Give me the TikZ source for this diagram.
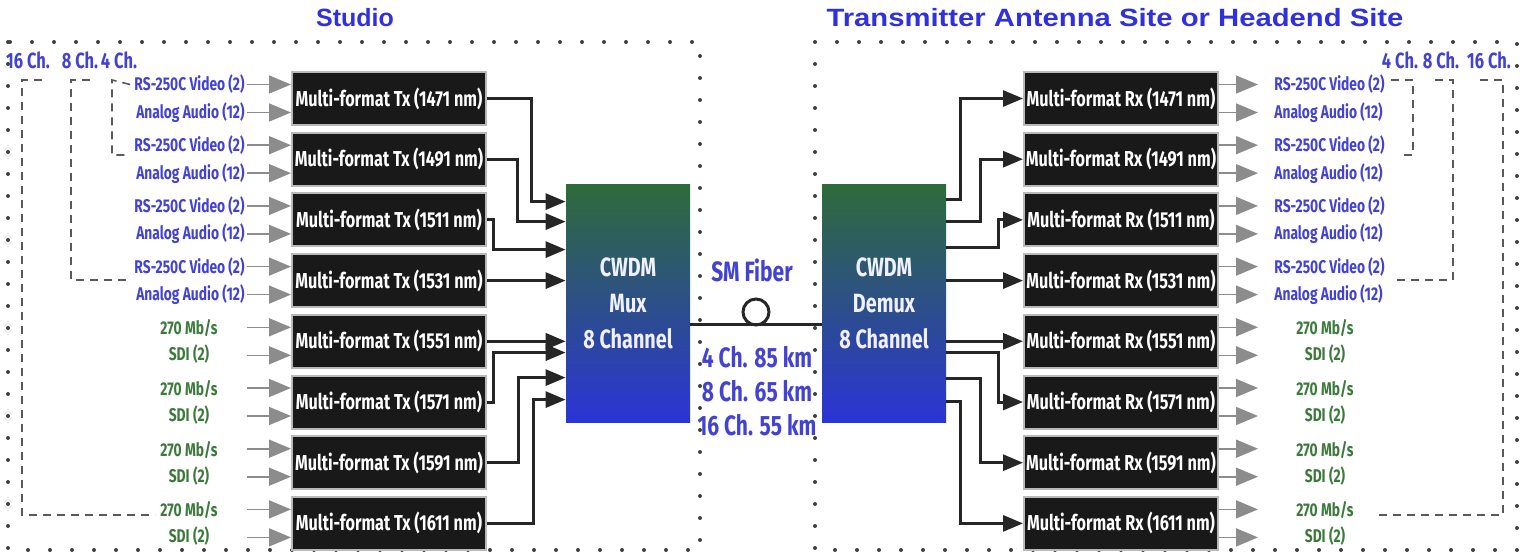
\documentclass[tikz,border=0pt]{standalone}
\usepackage{fontspec}
\setmainfont{Liberation Sans}
\newfontfamily\condfont[FakeStretch=0.75]{Fira Sans}
\newfontfamily\widefont[FakeStretch=1.17]{Liberation Sans}
\usetikzlibrary{arrows.meta, positioning, calc}

\definecolor{titleblue}{HTML}{3030E0}
\definecolor{lblblue}{HTML}{4242D4}
\definecolor{lblgreen}{HTML}{3C7A3C}
\definecolor{muxgreen}{HTML}{2E6B3A}
\definecolor{muxblue}{HTML}{2B34D6}
\definecolor{arrowgray}{HTML}{8C8C8C}

\begin{document}
\begin{tikzpicture}[
    x=0.5pt, y=-0.5pt,
    % --- Node styles ---
    title/.style = {font=\fontsize{12.5}{14}\selectfont\bfseries, text=titleblue},
    unit/.style = {rectangle, draw=gray!55, line width=1pt, fill=black!90,
        text=white, minimum width=97pt, minimum height=26.5pt, inner sep=0pt,
        font=\condfont\fontsize{10.8}{12}\selectfont\bfseries},
    wdm/.style = {rectangle, draw=none, top color=muxgreen, bottom color=muxblue,
        text=blue!6, minimum width=62pt, minimum height=118.5pt, align=center,
        font=\condfont\fontsize{13.2}{18}\selectfont\bfseries},
    sig/.style = {font=\condfont\fontsize{9.2}{10}\selectfont\bfseries,
        text=lblblue, inner sep=1pt},
    sdi/.style = {font=\condfont\fontsize{9.2}{10}\selectfont\bfseries,
        text=lblgreen, inner sep=1pt},
    chlbl/.style = {font=\condfont\fontsize{11}{12}\selectfont\bfseries,
        text=lblblue, inner sep=0pt},
    fiberlbl/.style = {font=\condfont\fontsize{14}{17}\selectfont\bfseries,
        text=lblblue, align=center, inner sep=0pt},
    % --- Arrow styles ---
    inarrow/.style = {draw=arrowgray, line width=0.8pt,
        -{Triangle[length=11pt, width=9pt]}, arrowgray},
    link/.style = {draw=black!85, line width=1.5pt,
        -{Triangle[length=10pt, width=8pt]}},
    grouping/.style = {draw=black!65, dash pattern=on 4pt off 3pt, line width=0.8pt},
    siteframe/.style = {draw=black!75, line width=2pt, line cap=round,
        dash pattern=on 0pt off 11pt}
]
\useasboundingbox (0,0) rectangle (1523,556);

% ==================== SITES ====================
\draw[siteframe] (8,42) rectangle (700,550);
\draw[siteframe] (815,42) rectangle (1517,550);
\node[title] (studio) at (355,18) {Studio};
\node[title, font=\widefont\fontsize{12.5}{14}\selectfont\bfseries] (headend) at (1115,18)
    {Transmitter Antenna Site or Headend Site};

% ==================== TX UNITS ====================
\node[unit] (tx1) at (389,98.5) {Multi-format Tx (1471 nm)};
\node[unit, below=2.85pt of tx1] (tx2) {Multi-format Tx (1491 nm)};
\node[unit, below=2.85pt of tx2] (tx3) {Multi-format Tx (1511 nm)};
\node[unit, below=2.85pt of tx3] (tx4) {Multi-format Tx (1531 nm)};
\node[unit, below=2.85pt of tx4] (tx5) {Multi-format Tx (1551 nm)};
\node[unit, below=2.85pt of tx5] (tx6) {Multi-format Tx (1571 nm)};
\node[unit, below=2.85pt of tx6] (tx7) {Multi-format Tx (1591 nm)};
\node[unit, below=2.85pt of tx7] (tx8) {Multi-format Tx (1611 nm)};

% ==================== RX UNITS ====================
\node[unit] (rx1) at (1121,98.5) {Multi-format Rx (1471 nm)};
\node[unit, below=2.85pt of rx1] (rx2) {Multi-format Rx (1491 nm)};
\node[unit, below=2.85pt of rx2] (rx3) {Multi-format Rx (1511 nm)};
\node[unit, below=2.85pt of rx3] (rx4) {Multi-format Rx (1531 nm)};
\node[unit, below=2.85pt of rx4] (rx5) {Multi-format Rx (1551 nm)};
\node[unit, below=2.85pt of rx5] (rx6) {Multi-format Rx (1571 nm)};
\node[unit, below=2.85pt of rx6] (rx7) {Multi-format Rx (1591 nm)};
\node[unit, below=2.85pt of rx7] (rx8) {Multi-format Rx (1611 nm)};

% ==================== MUX / DEMUX ====================
\node[wdm] (mux) at (628,303.5) {CWDM\\Mux\\8 Channel};
\node[wdm] (demux) at (884,303.5) {CWDM\\Demux\\8 Channel};

% ==================== INPUTS / OUTPUTS ====================
\foreach \i in {1,...,4} {
    \node[sig, anchor=east] (vin\i) at ($(tx\i.west)+(-44,-14)$) {RS-250C Video (2)};
    \node[sig, anchor=east] (ain\i) at ($(tx\i.west)+(-44,14)$) {Analog Audio (12)};
    \draw[inarrow] (vin\i.east) -- (vin\i.east -| tx\i.west);
    \draw[inarrow] (ain\i.east) -- (ain\i.east -| tx\i.west);
    \coordinate (vout\i) at ($(rx\i.east)+(39,-14)$);
    \coordinate (aout\i) at ($(rx\i.east)+(39,14)$);
    \node[sig, anchor=west] (vlbl\i) at ($(vout\i)+(14,0)$) {RS-250C Video (2)};
    \node[sig, anchor=west] (albl\i) at ($(aout\i)+(14,0)$) {Analog Audio (12)};
    \draw[inarrow] (rx\i.east |- vout\i) -- (vout\i);
    \draw[inarrow] (rx\i.east |- aout\i) -- (aout\i);
}
\foreach \i in {5,...,8} {
    \coordinate (sin\i) at ($(tx\i.west)+(-44,-14)$);
    \coordinate (din\i) at ($(tx\i.west)+(-44,14)$);
    \node[sdi] (rate\i) at ($(tx\i.west)+(-102,-13)$) {270 Mb/s};
    \node[sdi] (sdi\i) at ($(tx\i.west)+(-102,13)$) {SDI (2)};
    \draw[inarrow] (sin\i) -- (sin\i -| tx\i.west);
    \draw[inarrow] (din\i) -- (din\i -| tx\i.west);
    \coordinate (sout\i) at ($(rx\i.east)+(39,-14)$);
    \coordinate (dout\i) at ($(rx\i.east)+(39,14)$);
    \node[sdi] (orate\i) at ($(rx\i.east)+(106,-13)$) {270 Mb/s};
    \node[sdi] (osdi\i) at ($(rx\i.east)+(106,13)$) {SDI (2)};
    \draw[inarrow] (rx\i.east |- sout\i) -- (sout\i);
    \draw[inarrow] (rx\i.east |- dout\i) -- (dout\i);
}

% ==================== CHANNEL GROUPS ====================
\node[chlbl] (ch16l) at (28,60) {16 Ch.};
\node[chlbl] (ch8l) at (80,60) {8 Ch.};
\node[chlbl] (ch4l) at (119,60) {4 Ch.};
\draw[grouping] (42,80) -- (22,80) -- (22,515) -- (155,515);
\draw[grouping] (90,80) -- (71,80) -- (71,280) -- (130,280);
\draw[grouping] ($(vin1.west)+(-2,0)$) -- (112,80) -- (112,155) -- (128,155);

\node[chlbl] (ch4r) at (1400,60) {4 Ch.};
\node[chlbl] (ch8r) at (1441,60) {8 Ch.};
\node[chlbl] (ch16r) at (1489,60) {16 Ch.};
\draw[grouping] (1391,80) -- (1413,80) -- (1413,155) -- (1400,155);
\draw[grouping] (1435,80) -- (1453,80) -- (1453,280) -- (1397,280);
\draw[grouping] (1480,80) -- (1503,80) -- (1503,515) -- (1378,515);

% ==================== TX -> MUX ====================
\coordinate (m1) at ($(mux.north west)+(0,17)$);
\coordinate (m2) at ($(mux.north west)+(0,37)$);
\coordinate (m3) at ($(mux.north west)+(0,65)$);
\coordinate (m6) at ($(mux.north west)+(0,168)$);
\coordinate (m7) at ($(mux.north west)+(0,193)$);
\coordinate (m8) at ($(mux.north west)+(0,215)$);
\draw[link] (tx1.east) -- ++(44,0) |- (m1);
\draw[link] (tx2.east) -- ++(30,0) |- (m2);
\draw[link] (tx3.east) -- ++(6,0) |- (m3);
\draw[link] (tx4.east) -- (tx4.east -| mux.west);
\draw[link] (tx5.east) -- (tx5.east -| mux.west);
\draw[link] (tx6.east) -- ++(6,0) |- (m6);
\draw[link] (tx7.east) -- ++(31,0) |- (m7);
\draw[link] (tx8.east) -- ++(46,0) |- (m8);

% ==================== DEMUX -> RX ====================
\coordinate (d1) at ($(demux.north east)+(0,15)$);
\coordinate (d2) at ($(demux.north east)+(0,37)$);
\coordinate (d3) at ($(demux.north east)+(0,63)$);
\coordinate (d6) at ($(demux.north east)+(0,168)$);
\coordinate (d7) at ($(demux.north east)+(0,194)$);
\coordinate (d8) at ($(demux.north east)+(0,217)$);
\draw[link] (d1) -- ++(14,0) |- (rx1.west);
\draw[link] (d2) -- ++(34,0) |- (rx2.west);
\draw[link] (d3) -- ++(52,0) |- (rx3.west);
\draw[link] (rx4.west -| demux.east) -- (rx4.west);
\draw[link] (rx5.west -| demux.east) -- (rx5.west);
\draw[link] (d6) -- ++(52,0) |- (rx6.west);
\draw[link] (d7) -- ++(34,0) |- (rx7.west);
\draw[link] (d8) -- ++(14,0) |- (rx8.west);

% ==================== FIBER ====================
\node[fiberlbl] (smfiber) at (752,270) {SM Fiber};
\node[circle, draw=black!85, line width=1.5pt, minimum size=13pt, inner sep=0pt] (spool) at (756,312) {};
\draw[draw=black!85, line width=1.5pt] ($(mux.east)+(0,21)$) -- ($(demux.west)+(0,21)$);
\node[fiberlbl] (reach) at (757,391) {4 Ch. 85 km\\8 Ch. 65 km\\16 Ch. 55 km};

\end{tikzpicture}
\end{document}
